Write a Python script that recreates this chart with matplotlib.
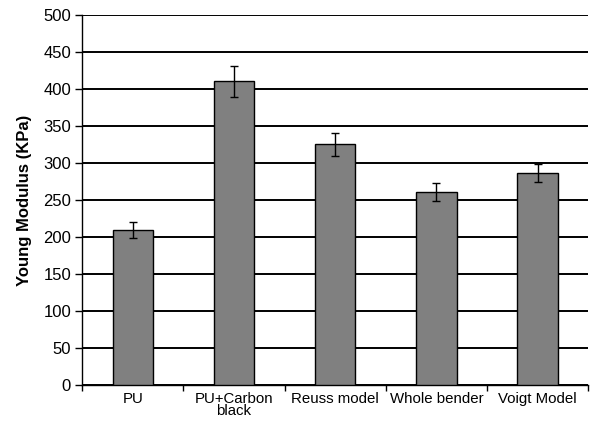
import numpy as np
import matplotlib.pyplot as plt

plt.rcParams['font.family'] = ['Liberation Sans', 'DejaVu Sans']

# data
categories = ['PU', 'PU+Carbon\nblack', 'Reuss model', 'Whole bender', 'Voigt Model']
modulus = [209, 410, 325, 261, 286]
errors = [11, 21, 16, 12, 12]

fig = plt.figure(figsize=(6.04, 4.24), dpi=100)
ax = fig.add_axes([0.136, 0.092, 0.838, 0.873])

x = np.arange(len(categories))
ax.bar(x, modulus, width=0.4, color='#808080', edgecolor='black', linewidth=1.0, zorder=3)
ax.errorbar(x, modulus, yerr=errors, fmt='none', ecolor='black', elinewidth=1.0,
            capsize=3, capthick=1.0, zorder=4)

ax.set_xlim(-0.5, len(categories) - 0.5)
ax.set_ylim(0, 500)
ax.set_yticks(np.arange(0, 501, 50))
ax.yaxis.grid(True, color='black', linewidth=1.4, zorder=0)

# x ticks sit between categories, labels at centers
ax.set_xticks(np.arange(-0.5, len(categories), 1.0))
ax.set_xticklabels([])
ax.set_xticks(x, minor=True)
ax.set_xticklabels(categories, minor=True, fontsize=10.8, linespacing=0.85)
ax.tick_params(axis='x', which='minor', length=0, pad=5)
ax.tick_params(axis='x', which='major', length=4, width=1.0, direction='out')
ax.tick_params(axis='y', length=5, width=1.0, direction='out', labelsize=12, pad=3)

for s in ['top', 'right']:
    ax.spines[s].set_visible(False)
ax.spines['left'].set_linewidth(1.0)
ax.spines['bottom'].set_linewidth(1.0)

ax.set_ylabel('Young Modulus (KPa)', fontsize=12, fontweight='bold', labelpad=8)

fig.savefig('out.png', dpi=100)
